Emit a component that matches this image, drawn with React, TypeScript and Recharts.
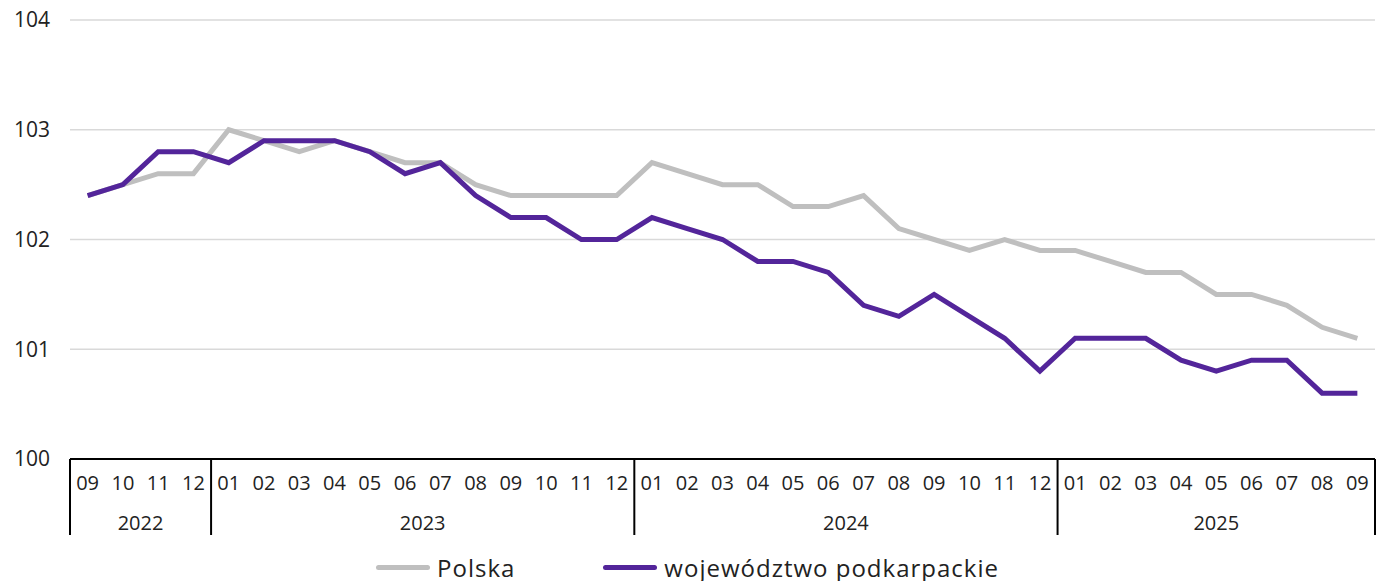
import { CartesianGrid, Legend, Line, LineChart, XAxis, YAxis } from "recharts";

const months = [
  "09", "10", "11", "12",
  "01", "02", "03", "04", "05", "06", "07", "08", "09", "10", "11", "12",
  "01", "02", "03", "04", "05", "06", "07", "08", "09", "10", "11", "12",
  "01", "02", "03", "04", "05", "06", "07", "08", "09",
];
const years = [
  "2022", "2022", "2022", "2022",
  "2023", "2023", "2023", "2023", "2023", "2023", "2023", "2023", "2023", "2023", "2023", "2023",
  "2024", "2024", "2024", "2024", "2024", "2024", "2024", "2024", "2024", "2024", "2024", "2024",
  "2025", "2025", "2025", "2025", "2025", "2025", "2025", "2025", "2025",
];
const polska = [
  102.4, 102.5, 102.6, 102.6,
  103.0, 102.9, 102.8, 102.9, 102.8, 102.7, 102.7, 102.5, 102.4, 102.4, 102.4, 102.4,
  102.7, 102.6, 102.5, 102.5, 102.3, 102.3, 102.4, 102.1, 102.0, 101.9, 102.0, 101.9,
  101.9, 101.8, 101.7, 101.7, 101.5, 101.5, 101.4, 101.2, 101.1,
];
const podkarpackie = [
  102.4, 102.5, 102.8, 102.8,
  102.7, 102.9, 102.9, 102.9, 102.8, 102.6, 102.7, 102.4, 102.2, 102.2, 102.0, 102.0,
  102.2, 102.1, 102.0, 101.8, 101.8, 101.7, 101.4, 101.3, 101.5, 101.3, 101.1, 100.8,
  101.1, 101.1, 101.1, 100.9, 100.8, 100.9, 100.9, 100.6, 100.6,
];
const yTicks = [100, 101, 102, 103, 104];
const seriesNames = ["Polska", "województwo podkarpackie"];
const seriesColors = ["#bfbfbf", "#53259a"];

const FONT = "'Open Sans', sans-serif";
const W = 1383;
const H = 581;
const M = { top: 20, right: 8, left: 0, bottom: 0 };
const Y_W = 70;

const data = months.map((m, i) => ({ key: `${years[i]}-${m}`, m, polska: polska[i], podk: podkarpackie[i] }));

function MonthTick(props: any) {
  const { x, y, payload } = props;
  const i: number = props.index ?? payload.index;
  const fallback = (W - M.right - Y_W) / months.length;
  const step = payload?.offset ? payload.offset * 2 : fallback;
  const yr = years[i];
  const isStart = i === 0 || years[i - 1] !== yr;
  const isEnd = i === months.length - 1;
  const count = years.filter((v) => v === yr).length;
  return (
    <g>
      <text x={x} y={y + 23} textAnchor="middle" dominantBaseline="central" fontSize={20} fontFamily={FONT} fill="#222">
        {months[i]}
      </text>
      {isStart && <line x1={x - step / 2} x2={x - step / 2} y1={y} y2={y + 76} stroke="#000" strokeWidth={2} />}
      {isStart && (
        <text x={x + ((count - 1) * step) / 2} y={y + 63} textAnchor="middle" dominantBaseline="central" fontSize={20} fontFamily={FONT} fill="#222">
          {yr}
        </text>
      )}
      {isEnd && <line x1={x + step / 2} x2={x + step / 2} y1={y} y2={y + 76} stroke="#000" strokeWidth={2} />}
    </g>
  );
}

function LegendBox() {
  return (
    <div style={{ display: "flex", justifyContent: "center", alignItems: "center", height: 28, fontFamily: FONT, fontSize: 24, letterSpacing: 1, color: "#222" }}>
      {seriesNames.map((name, i) => (
        <div key={name} style={{ display: "flex", alignItems: "center", marginLeft: i ? 88 : 0 }}>
          <span style={{ display: "inline-block", width: 54, height: 5, borderRadius: 3, background: seriesColors[i], marginRight: 7 }} />
          <span>{name}</span>
        </div>
      ))}
    </div>
  );
}

export default function App() {
  return (
    <div style={{ position: "absolute", left: 0, top: 0, width: W, height: H, background: "#fff" }}>
      <LineChart width={W} height={H} data={data} margin={M}>
        <CartesianGrid vertical={false} stroke="#d9d9d9" strokeWidth={1.5} />
        <XAxis
          dataKey="key"
          scale="band"
          interval={0}
          height={94}
          tickSize={0}
          tickMargin={0}
          tickLine={false}
          axisLine={{ stroke: "#000", strokeWidth: 2 }}
          tick={<MonthTick />}
        />
        <YAxis
          domain={[100, 104]}
          ticks={yTicks}
          width={Y_W}
          tickSize={0}
          tickMargin={20}
          axisLine={false}
          tickLine={false}
          tick={{ fontSize: 21, fontFamily: FONT, fill: "#222" }}
        />
        <Legend verticalAlign="bottom" content={() => <LegendBox />} />
        <Line dataKey="polska" name={seriesNames[0]} stroke={seriesColors[0]} strokeWidth={5} dot={false} isAnimationActive={false} />
        <Line dataKey="podk" name={seriesNames[1]} stroke={seriesColors[1]} strokeWidth={5} dot={false} isAnimationActive={false} />
      </LineChart>
    </div>
  );
}
